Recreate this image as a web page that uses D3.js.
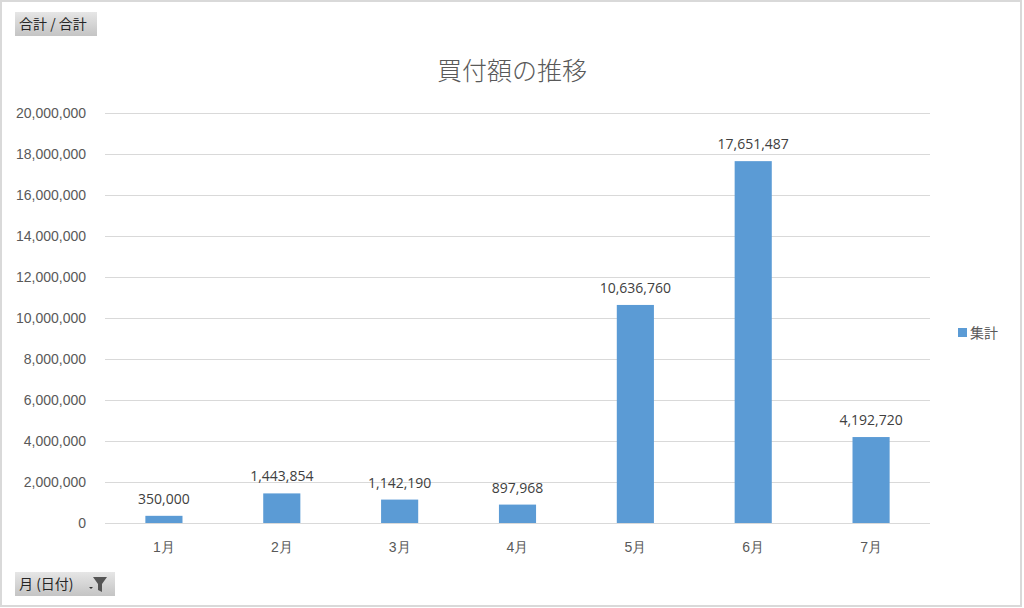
<!DOCTYPE html>
<html>
<head>
<meta charset="utf-8">
<script src="https://cdn.jsdelivr.net/npm/d3@7"></script>
<style>
  html, body { margin: 0; padding: 0; background: #fff; }
  svg { display: block; font-family: "Open Sans", "Noto Sans CJK JP", sans-serif; }
</style>
</head>
<body>
<svg id="chart" width="1024" height="608"></svg>
<script>
"use strict";

var months = ['1月', '2月', '3月', '4月', '5月', '6月', '7月'];
var totals = [350000, 1443854, 1142190, 897968, 10636760, 17651487, 4192720];
var yTicks = [0, 2000000, 4000000, 6000000, 8000000, 10000000, 12000000, 14000000, 16000000, 18000000, 20000000];
var seriesName = '集計';
var chartTitle = '買付額の推移';

var svg = d3.select('#chart');
var margin = { left: 105, right: 94, top: 113, bottom: 85 };
var width = 1024, height = 608;

var fmt = d3.format(',');

// outer frame
svg.append('rect')
    .attr('x', 1).attr('y', 1)
    .attr('width', 1020).attr('height', 605)
    .attr('fill', '#fff')
    .attr('stroke', '#d9d9d9')
    .attr('stroke-width', 2);

var x = d3.scaleBand()
    .domain(months)
    .range([margin.left, width - margin.right])
    .paddingInner(0.685)
    .paddingOuter(0.3425);

var y = d3.scaleLinear()
    .domain([0, 20000000])
    .range([height - margin.bottom, margin.top]);

// gridlines
svg.append('g')
    .selectAll('line')
    .data(yTicks)
    .join('line')
    .attr('x1', margin.left)
    .attr('x2', width - margin.right)
    .attr('y1', function(d) { return Math.round(y(d)) + 0.5; })
    .attr('y2', function(d) { return Math.round(y(d)) + 0.5; })
    .attr('stroke', '#d9d9d9')
    .attr('stroke-width', 1);

// y axis labels
var yAxis = d3.axisLeft(y).tickValues(yTicks).tickFormat(fmt).tickSize(0).tickPadding(0);
var yg = svg.append('g')
    .attr('transform', 'translate(' + (margin.left - 19) + ',0)')
    .call(yAxis);
yg.select('.domain').remove();
yg.selectAll('text')
    .attr('fill', '#595959')
    .style('font-size', '14px')
    .attr('dy', '0.35em');

// bars
svg.append('g')
    .selectAll('rect')
    .data(totals)
    .join('rect')
    .attr('x', function(d, i) { return x(months[i]); })
    .attr('width', x.bandwidth())
    .attr('y', function(d) { return y(d); })
    .attr('height', function(d) { return y(0) - y(d); })
    .attr('fill', '#5b9bd5');

// data labels
svg.append('g')
    .selectAll('text')
    .data(totals)
    .join('text')
    .attr('x', function(d, i) { return x(months[i]) + x.bandwidth() / 2; })
    .attr('y', function(d) { return y(d) - 12; })
    .attr('text-anchor', 'middle')
    .attr('fill', '#404040')
    .style('font-size', '14px')
    .text(fmt);

// x axis
var xAxis = d3.axisBottom(x).tickSize(0).tickPadding(0);
var xg = svg.append('g')
    .attr('transform', 'translate(0,' + (height - margin.bottom) + ')')
    .call(xAxis);
xg.select('.domain')
    .attr('stroke', '#d9d9d9')
    .attr('d', 'M' + margin.left + ',0.5H' + (width - margin.right));
xg.selectAll('text')
    .attr('fill', '#595959')
    .style('font-size', '14px')
    .attr('y', 24)
    .attr('dy', '0.35em');

// title
svg.append('text')
    .attr('x', 512)
    .attr('y', 80)
    .attr('text-anchor', 'middle')
    .attr('fill', '#595959')
    .style('font-size', '25px')
    .style('font-family', '"Noto Sans CJK JP", sans-serif')
    .style('font-weight', 300)
    .text(chartTitle);

// legend
var legend = svg.append('g').attr('transform', 'translate(958,333)');
legend.append('rect')
    .attr('x', 0).attr('y', -5)
    .attr('width', 9).attr('height', 9)
    .attr('fill', '#5b9bd5');
legend.append('text')
    .attr('x', 12)
    .attr('dy', '0.35em')
    .attr('fill', '#595959')
    .style('font-size', '14px')
    .style('font-family', '"Noto Sans CJK JP", sans-serif')
    .text(seriesName);

// pivot field buttons
var defs = svg.append('defs');
var grad = defs.append('linearGradient')
    .attr('id', 'btnGrad')
    .attr('x1', 0).attr('y1', 0).attr('x2', 0).attr('y2', 1);
grad.append('stop').attr('offset', '0%').attr('stop-color', '#e6e6e6');
grad.append('stop').attr('offset', '100%').attr('stop-color', '#c4c4c4');

function fieldButton(bx, by, bw, label, withFilter) {
    var g = svg.append('g').attr('transform', 'translate(' + bx + ',' + by + ')');
    g.append('rect')
        .attr('width', bw).attr('height', 24)
        .attr('fill', 'url(#btnGrad)');
    g.append('text')
        .attr('x', 4).attr('y', 12)
        .attr('dy', '0.35em')
        .attr('fill', '#262626')
        .style('font-size', '14px')
        .style('font-family', '"Noto Sans CJK JP", sans-serif')
        .text(label);
    if (withFilter) {
        g.append('path')
            .attr('d', 'M74,15h4l-2,2z')
            .attr('fill', '#333');
        g.append('path')
            .attr('d', 'M78,5h14l-5,7v8l-4,-2v-6z')
            .attr('fill', '#555');
    }
}

fieldButton(15, 12, 82, '合計 / 合計', false);
fieldButton(15, 572, 100, '月 (日付)', true);
</script>
</body>
</html>
